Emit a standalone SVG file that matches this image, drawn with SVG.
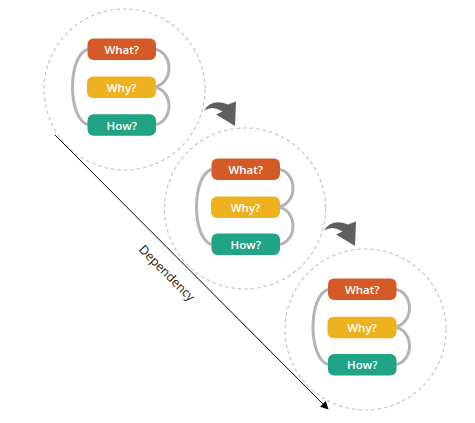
<svg xmlns="http://www.w3.org/2000/svg" width="475" height="423" viewBox="0 0 475 423">
  <defs>
    <style>
      .ring { fill: none; stroke: #c6c6c6; stroke-width: 1.2; stroke-dasharray: 3.5 3; }
      .loop { fill: none; stroke: #b4b4b4; stroke-width: 3; }
      .what { fill: #d45a28; }
      .why { fill: #efb21f; }
      .how { fill: #21a386; }
      .pill-text { fill: #ffffff; font-family: "Open Sans", "Noto Sans", "Liberation Sans", sans-serif; font-weight: 600; font-size: 11.5px; text-anchor: middle; dominant-baseline: central; }
      .bend { fill: #606060; }
      .dep { stroke: #000000; stroke-width: 1; fill: none; }
      .dep-label { fill: #1a1a1a; font-family: "Open Sans", "Noto Sans", "Liberation Sans", sans-serif; font-size: 12.5px; text-anchor: middle; dominant-baseline: central; }
    </style>
    <marker id="dep-head" viewBox="0 0 10 10" refX="9" refY="5" markerWidth="10" markerHeight="8" markerUnits="userSpaceOnUse" orient="auto">
      <path d="M0 0 L10 5 L0 10 Z" fill="#000000"/>
    </marker>
    <path id="bend-shape" d="M204 110.5 Q212 98 228 104.5 L236 101.5 L235 126 L216 114.5 L222.5 111.5 Q213 105 204 110.5 Z"/>
  </defs>

  <!-- rings -->
  <g id="ring-1"><circle class="ring" cx="124.5" cy="89.5" r="80.5"/></g>
  <g id="ring-2"><circle class="ring" cx="245" cy="208.5" r="80.5"/></g>
  <g id="ring-3"><circle class="ring" cx="365.5" cy="329.5" r="80.5"/></g>

  <!-- connectors -->
  <g id="connectors">
    <g transform="translate(0,0)">
      <path class="loop" d="M89 49 C67 53 67 121 89 125"/>
      <path class="loop" d="M154 49 C174 52 174 84 154 87"/>
      <path class="loop" d="M154 87 C174 90 174 122 154 125"/>
    </g>
    <g transform="translate(124,120)">
      <path class="loop" d="M89 49 C67 53 67 121 89 125"/>
      <path class="loop" d="M154 49 C174 52 174 84 154 87"/>
      <path class="loop" d="M154 87 C174 90 174 122 154 125"/>
    </g>
    <g transform="translate(240.5,240)">
      <path class="loop" d="M89 49 C67 53 67 121 89 125"/>
      <path class="loop" d="M154 49 C174 52 174 84 154 87"/>
      <path class="loop" d="M154 87 C174 90 174 122 154 125"/>
    </g>
    <use href="#bend-shape" class="bend"/>
    <use href="#bend-shape" class="bend" transform="translate(120,120)"/>
    <line class="dep" x1="55" y1="135" x2="328" y2="409" marker-end="url(#dep-head)"/>
    <text class="dep-label" transform="translate(167,273) rotate(45)">Dependency</text>
  </g>

  <!-- group 1 -->
  <g id="what-1"><rect class="what" x="87.5" y="38.5" width="68.5" height="21.5" rx="6"/><text class="pill-text" x="121.75" y="49.25">What?</text></g>
  <g id="why-1"><rect class="why" x="87" y="76.5" width="69" height="21.5" rx="6"/><text class="pill-text" x="121.5" y="87.25">Why?</text></g>
  <g id="how-1"><rect class="how" x="87.5" y="114.2" width="68.5" height="21.5" rx="6"/><text class="pill-text" x="121.75" y="125">How?</text></g>

  <!-- group 2 -->
  <g id="what-2"><rect class="what" x="211.5" y="158.5" width="68.5" height="21.5" rx="6"/><text class="pill-text" x="245.75" y="169.25">What?</text></g>
  <g id="why-2"><rect class="why" x="211" y="196.5" width="69" height="21.5" rx="6"/><text class="pill-text" x="245.5" y="207.25">Why?</text></g>
  <g id="how-2"><rect class="how" x="211.5" y="233.5" width="68.5" height="21.5" rx="6"/><text class="pill-text" x="245.75" y="244.25">How?</text></g>

  <!-- group 3 -->
  <g id="what-3"><rect class="what" x="328" y="278.5" width="68.5" height="21.5" rx="6"/><text class="pill-text" x="362.25" y="289.25">What?</text></g>
  <g id="why-3"><rect class="why" x="327.5" y="316.8" width="69" height="21.5" rx="6"/><text class="pill-text" x="362" y="327.5">Why?</text></g>
  <g id="how-3"><rect class="how" x="328" y="354" width="68.5" height="21.5" rx="6"/><text class="pill-text" x="362.25" y="364.75">How?</text></g>
</svg>
